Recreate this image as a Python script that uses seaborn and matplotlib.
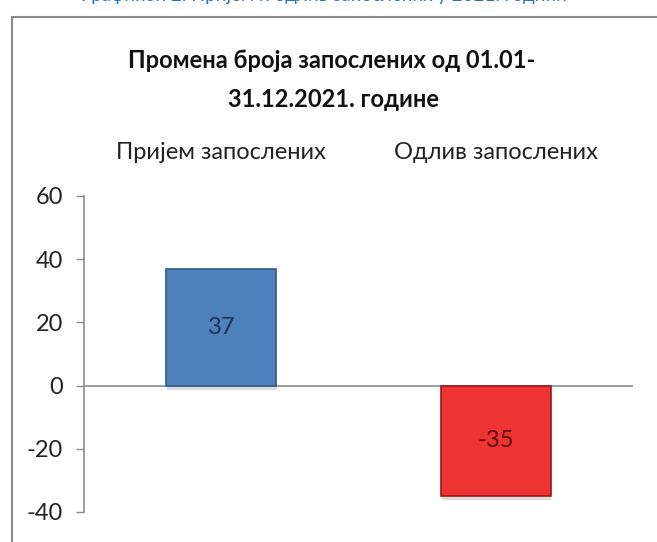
import matplotlib
matplotlib.use("Agg")
import matplotlib.pyplot as plt
import matplotlib.patheffects as pe
import seaborn as sns
import pandas as pd
from matplotlib.patches import Rectangle

categories = ["Пријем запослених", "Одлив запослених"]
values = [37, -35]
bar_colors = ["#4F81BD", "#EE3333"]
label_colors = ["#1F2F55", "#5A0A0A"]
yticks = [-40, -20, 0, 20, 40, 60]
title_lines = ["Промена броја запослених од 01.01-", "31.12.2021. године"]
caption = "Графикон 2: Пријем и одлив запослених у 2021. години"

sns.set_theme(style="white")
plt.rcParams["font.family"] = ["Lato", "Open Sans", "DejaVu Sans"]

df = pd.DataFrame({"cat": categories, "val": values})

fig = plt.figure(figsize=(6.57, 5.42), dpi=100)
ax = fig.add_axes([84/657, 1-512/542, (633-84)/657, (512-196)/542])

sns.barplot(data=df, x="cat", y="val", hue="cat", palette=bar_colors,
            width=0.40, ax=ax, legend=False, saturation=1)
for p, ec in zip(ax.patches, ["#2E5A8E", "#A01818"]):
    p.set_edgecolor(ec)
    p.set_linewidth(1.2)
    p.set_path_effects([pe.SimplePatchShadow(offset=(0.5, -3), shadow_rgbFace="#999999", alpha=0.35),
                        pe.Normal()])

for cont, lc in zip(ax.containers, label_colors):
    ax.bar_label(cont, label_type="center", fontsize=17, color=lc)

ax.set_ylim(-40, 60)
ax.set_xlim(-0.5, 1.5)
ax.set_yticks(yticks)
ax.set_yticklabels([str(v) for v in yticks], fontsize=17, color="#222222")
ax.axhline(0, color="#8C8C8C", lw=1.2, zorder=0)

ax.xaxis.tick_top()
ax.tick_params(axis="x", length=0, pad=24, labelsize=17, labelcolor="#222222")
ax.tick_params(axis="y", direction="out", length=6, width=1, color="#8C8C8C",
               left=True, pad=9)
ax.set_xlabel("")
ax.set_ylabel("")
for s in ["top", "right", "bottom"]:
    ax.spines[s].set_visible(False)
ax.spines["left"].set_color("#8C8C8C")
ax.spines["left"].set_linewidth(1.2)

fig.text(332/657, 1-60/542, title_lines[0], ha="center", va="center",
         fontsize=17, fontweight="bold", color="#111111")
fig.text(333/657, 1-100/542, title_lines[1], ha="center", va="center",
         fontsize=17, fontweight="bold", color="#111111")

fig.text(324/657, 1-1/542, caption, ha="center", va="baseline",
         fontsize=13.5, color="#2E74B5")

frame = Rectangle((12/657, -0.1), 1.2, (1-17/542) + 0.1, transform=fig.transFigure,
                  fill=False, edgecolor="#8A8A8A", lw=1.5, clip_on=False)
fig.add_artist(frame)

fig.savefig("out.png", dpi=100)
